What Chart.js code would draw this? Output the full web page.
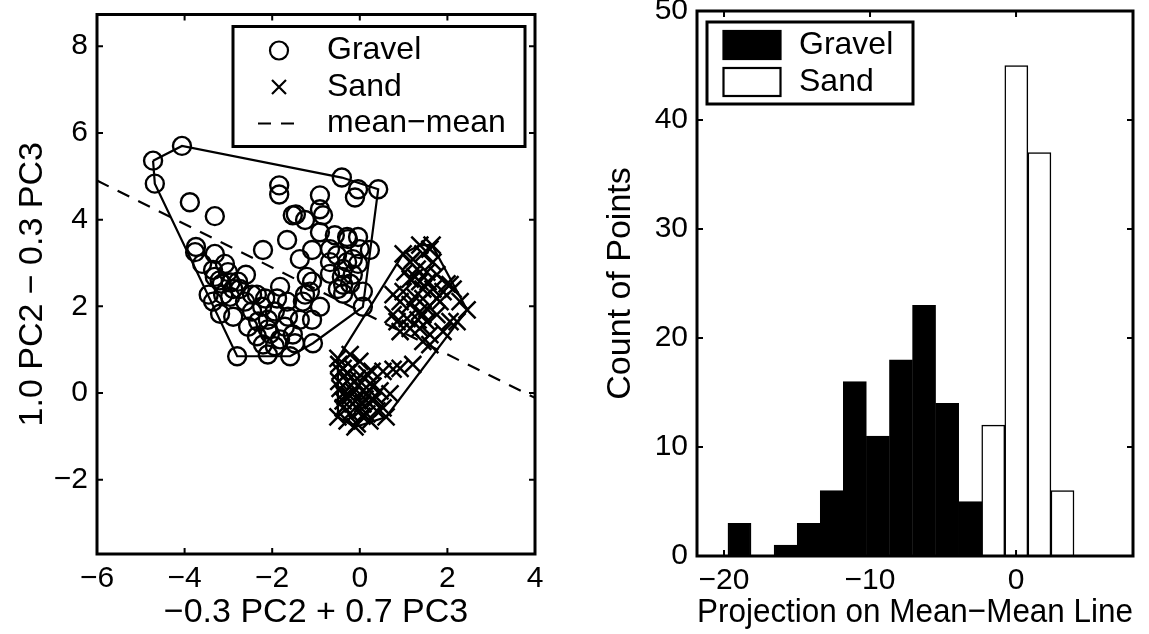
<!DOCTYPE html>
<html>
<head>
<meta charset="utf-8">
<title>Gravel vs Sand</title>
<script src="https://cdn.jsdelivr.net/npm/chart.js@4.4.1/dist/chart.umd.min.js"></script>
<style>
  html, body { margin: 0; padding: 0; background: #fff; }
  #scatter { position: absolute; left: 0; top: 0; }
  #hist { position: absolute; left: 575px; top: 0; }
</style>
</head>
<body>
<canvas id="scatter" width="575" height="634"></canvas>
<canvas id="hist" width="574" height="634"></canvas>
<script>
// ---- scatter: projected samples ----
const gravelX = [-4.72, -4.06, -4.68, -3.88, -3.31, -3.74, -3.31, -2.21, -1.84, -1.84,
  -0.91, -0.41, -0.04, -0.11, 0.42, -1.53, -0.91, -0.84, -1.25, -0.91,
  -1.66, -3.20, -1.37, -0.57, -0.27, 0.00, 0.23, -0.52, -0.38, -0.68,
  -0.16, -0.38, -0.50, 0.07, -1.09, -1.14, -0.91, 0.07, -3.76, -3.35,
  -3.01, -2.60, -2.89, -3.12, -3.45, -2.35, -1.89, -1.66, -1.30, -2.74,
  -2.46, -2.16, -1.25, -3.19, -2.89, -2.46, -2.32, -2.10, -1.64, -2.35,
  -2.05, -1.82, -1.53, -1.48, -2.80, -2.10, -1.59, -1.07, -2.21, -2.95,
  -1.09, -0.68, -0.29, -0.04, -0.29, -0.04, -0.68, -0.41, -0.16, -0.22,
  -1.21, -1.46, -3.31, -3.15, -2.78, -2.96, -2.62, -3.35, -2.23, -1.94,
  -2.55, -2.10, -1.71, -1.94, -1.37, -1.82, -3.60, -3.08, -0.38, -1.09];
const gravelY = [5.36, 5.70, 4.83, 4.40, 4.08, 3.37, 3.21, 3.30, 4.79, 4.58,
  4.56, 4.97, 4.70, 4.51, 4.70, 4.10, 4.24, 4.10, 3.99, 3.71,
  3.53, 2.60, 3.09, 3.64, 3.55, 3.32, 3.30, 3.18, 2.86, 3.02,
  3.09, 2.50, 2.40, 2.34, 2.57, 2.34, 1.99, 1.99, 3.25, 2.84,
  2.79, 2.73, 2.40, 2.27, 2.27, 2.27, 2.18, 2.11, 2.11, 2.40,
  2.27, 2.18, 2.27, 1.83, 1.76, 1.88, 1.65, 1.69, 1.76, 1.31,
  1.37, 1.24, 1.35, 1.15, 0.85, 0.89, 0.85, 1.15, 1.12, 2.55,
  3.30, 3.32, 3.60, 3.60, 3.02, 2.98, 2.75, 2.68, 2.73, 2.52,
  2.68, 4.12, 2.68, 2.52, 2.57, 2.22, 2.11, 2.11, 1.99, 1.88,
  1.53, 1.47, 1.53, 1.08, 1.69, 2.45, 2.98, 2.98, 2.29, 1.69];

const sandX = [0.99, 1.37, 1.44, 1.60, 1.15, 1.31, 1.53, 1.76, 1.99, 2.13,
  1.15, 1.37, 1.44, 1.67, 1.90, 0.76, 0.92, 1.15, 1.37, 1.53,
  1.76, 2.06, 2.22, 2.45, 1.53, 1.37, 1.15, 0.92, 1.60, 1.90,
  1.44, 1.60, 0.76, 1.08, 0.85, 0.99, 1.26, 1.44, 1.83, 1.21,
  1.67, 1.33, 1.44, 2.06, 2.29, 1.26, 1.56, 1.76, 1.03, 1.65,
  -0.50, -0.22, -0.38, -0.16, 0.00, -0.48, -0.29, -0.06, 0.16, -0.38,
  -0.16, 0.07, 0.23, 0.46, 0.53, 0.76, 0.92, 1.21, 0.30, 0.07,
  -0.16, -0.38, -0.50, -0.29, -0.06, 0.16, 0.39, 0.60, -0.11, 0.00,
  -0.22, 0.16, 0.30, 0.69, -0.45, -0.06, -0.29, -0.48, 0.23, 0.53,
  -0.04, 0.28, 0.05, -0.38, -0.34, -0.11, 0.12, 0.35, -0.45, -0.22];
const sandY = [3.21, 3.41, 3.21, 3.32, 3.02, 2.86, 2.79, 2.73, 2.52, 2.40,
  2.63, 2.57, 2.40, 2.40, 2.34, 2.27, 2.11, 2.04, 1.88, 1.95,
  1.81, 1.65, 1.65, 1.92, 1.65, 1.49, 1.49, 1.42, 1.35, 1.42,
  1.19, 1.12, 1.81, 1.72, 1.65, 2.34, 2.22, 2.18, 2.11, 3.09,
  3.02, 1.69, 1.81, 2.50, 2.11, 2.68, 2.57, 2.18, 2.79, 3.41,
  0.80, 0.89, 0.57, 0.57, 0.73, 0.27, 0.27, 0.34, 0.44, -0.02,
  0.05, 0.05, 0.21, 0.05, 0.50, 0.55, 0.57, 0.66, -0.18, -0.25,
  -0.25, -0.34, -0.55, -0.64, -0.71, -0.48, -0.41, -0.55, -0.78, -0.41,
  -0.46, -0.02, 0.16, -0.02, 0.11, -0.14, 0.46, 0.66, -0.64, -0.34,
  0.16, 0.50, -0.53, -0.18, -0.07, 0.27, -0.14, -0.07, 0.50, -0.07];

// convex hull vertices (closed)
const gravelHullX = [-4.72, -4.06, -0.41, 0.42, 0.07, -1.07, -1.59, -2.80, -4.68, -4.72];
const gravelHullY = [5.36, 5.70, 4.97, 4.70, 1.99, 1.15, 0.85, 0.85, 4.83, 5.36];
const sandHullX = [-0.50, 0.99, 1.37, 1.65, 2.45, 0.60, -0.11, -0.50, -0.50];
const sandHullY = [0.80, 3.21, 3.41, 3.41, 1.92, -0.55, -0.78, -0.55, 0.80];

// line through the two class means
const meanLineX = [-6, 4];
const meanLineY = [4.90, -0.11];

const scatterXTicks = [-6, -4, -2, 0, 2, 4];
const scatterYTicks = [-2, 0, 2, 4, 6, 8];

// ---- histogram of projections ----
const gravelBins = [-18.94, -17.36, -15.78, -14.20, -12.62, -11.04, -9.46, -7.88, -6.30, -4.72, -3.14];
const gravelCounts = [3, 0, 1, 3, 6, 16, 11, 18, 23, 14, 5];
const sandBins = [-1.56, 0.02, 1.60, 3.18];
const sandCounts = [12, 45, 37, 6];

const histXTicks = [-20, -10, 0];
const histYTicks = [0, 10, 20, 30, 40, 50];

const FONT = '"Liberation Sans", Arial, Helvetica, sans-serif';
Chart.defaults.font.family = FONT;
Chart.defaults.color = '#000';
Chart.defaults.animation = false;

const minus = v => String(v).replace('-', '\u2212');
const pts = (xs, ys) => xs.map((x, i) => ({ x: x, y: ys[i] }));

// inward tick marks on all four sides plus the box frame
const frameTicks = {
  id: 'frameTicks',
  afterDatasetsDraw(chart) {
    const { ctx, chartArea: a, scales: { x, y } } = chart;
    const len = 6;
    ctx.save();
    ctx.strokeStyle = '#000';
    ctx.lineWidth = 2;
    ctx.beginPath();
    x.ticks.forEach(t => {
      const p = x.getPixelForValue(t.value);
      ctx.moveTo(p, a.bottom); ctx.lineTo(p, a.bottom - len);
      ctx.moveTo(p, a.top); ctx.lineTo(p, a.top + len);
    });
    y.ticks.forEach(t => {
      const p = y.getPixelForValue(t.value);
      ctx.moveTo(a.left, p); ctx.lineTo(a.left + len, p);
      ctx.moveTo(a.right, p); ctx.lineTo(a.right - len, p);
    });
    ctx.stroke();
    ctx.lineWidth = 3;
    ctx.strokeRect(a.left, a.top, a.right - a.left, a.bottom - a.top);
    ctx.restore();
  }
};

// boxed legend drawn inside the plot area
const boxLegend = {
  id: 'boxLegend',
  afterDraw(chart, args, o) {
    const { ctx, chartArea: a } = chart;
    const x0 = a.left + o.left, y0 = a.top + o.top;
    ctx.save();
    ctx.fillStyle = '#fff';
    ctx.fillRect(x0, y0, o.width, o.height);
    ctx.strokeStyle = '#000';
    ctx.lineWidth = 3;
    ctx.strokeRect(x0, y0, o.width, o.height);
    ctx.font = o.fontSize + 'px ' + FONT;
    ctx.textBaseline = 'middle';
    chart.data.datasets.filter(d => d.label).forEach((d, i) => {
      const cy = y0 + o.firstRow + i * o.rowGap;
      const mx = x0 + o.keyX;
      ctx.strokeStyle = '#000';
      ctx.lineWidth = 2.2;
      ctx.setLineDash([]);
      ctx.beginPath();
      if (chart.config.type === 'bar') {
        ctx.fillStyle = d.backgroundColor;
        ctx.fillRect(mx - o.keyW / 2, cy - o.keyH / 2, o.keyW, o.keyH);
        ctx.strokeRect(mx - o.keyW / 2, cy - o.keyH / 2, o.keyW, o.keyH);
      } else if (d.showLine) {
        ctx.setLineDash(d.borderDash || []);
        ctx.moveTo(mx - o.keyW / 2, cy);
        ctx.lineTo(mx + o.keyW / 2, cy);
        ctx.stroke();
      } else if (d.pointStyle === 'crossRot') {
        const h = 7;
        ctx.moveTo(mx - h, cy - h); ctx.lineTo(mx + h, cy + h);
        ctx.moveTo(mx - h, cy + h); ctx.lineTo(mx + h, cy - h);
        ctx.stroke();
      } else {
        ctx.arc(mx, cy, d.pointRadius, 0, Math.PI * 2);
        ctx.stroke();
      }
      ctx.setLineDash([]);
      ctx.fillStyle = '#000';
      ctx.fillText(d.label, x0 + o.textX, cy);
    });
    ctx.restore();
  }
};

// linear axis with fixed thickness, fixed tick list and no label overflow padding
function axis(min, max, ticks, title, fixed, pad, titlePad, extra) {
  return Object.assign({
    type: 'linear',
    min: min,
    max: max,
    afterBuildTicks: s => { s.ticks = ticks.map(v => ({ value: v })); },
    afterFit: s => {
      if (s.isHorizontal()) s.height = fixed; else s.width = fixed;
      s.paddingTop = s.paddingBottom = s.paddingLeft = s.paddingRight = 0;
    },
    grid: { display: false, drawTicks: false },
    border: { display: false },
    ticks: { font: { size: 30 }, callback: minus, autoSkip: false, maxRotation: 0, padding: pad },
    title: { display: true, text: title, font: { size: 34 }, padding: titlePad }
  }, extra || {});
}

// left panel: scatter with hulls and the mean-mean line
new Chart(document.getElementById('scatter'), {
  type: 'scatter',
  data: {
    datasets: [
      { label: 'Gravel', data: pts(gravelX, gravelY), pointStyle: 'circle', pointRadius: 9,
        pointHoverRadius: 9, borderColor: '#000', backgroundColor: 'rgba(0,0,0,0)', borderWidth: 2.4 },
      { label: 'Sand', data: pts(sandX, sandY), pointStyle: 'crossRot', pointRadius: 12,
        pointHoverRadius: 12, borderColor: '#000', backgroundColor: '#000', borderWidth: 2.5 },
      { label: 'mean\u2212mean', data: pts(meanLineX, meanLineY), showLine: true, pointRadius: 0,
        borderColor: '#000', borderWidth: 2.2, borderDash: [13, 10] },
      { data: pts(gravelHullX, gravelHullY), showLine: true, pointRadius: 0, borderColor: '#000', borderWidth: 2.2 },
      { data: pts(sandHullX, sandHullY), showLine: true, pointRadius: 0, borderColor: '#000', borderWidth: 2.2 }
    ]
  },
  options: {
    responsive: false,
    events: [],
    layout: { padding: { top: 11, right: 40, bottom: 0, left: 0 } },
    scales: {
      x: axis(-6, 4, scatterXTicks, '\u22120.3 PC2 + 0.7 PC3', 80, 7, { top: 0, bottom: 1 }),
      y: axis(-3.71, 8.73, scatterYTicks, '1.0 PC2 \u2212 0.3 PC3', 97, 9, { top: 12, bottom: 0 })
    },
    plugins: {
      legend: { display: false },
      tooltip: { enabled: false },
      boxLegend: { left: 136, top: 12, width: 292, height: 120, fontSize: 32,
        keyX: 46, keyW: 42, keyH: 28, textX: 94, firstRow: 24, rowGap: 36.5 }
    }
  },
  plugins: [frameTicks, boxLegend]
});

// right panel: histogram of projections onto the mean-mean line
new Chart(document.getElementById('hist'), {
  type: 'bar',
  data: {
    datasets: [
      { label: 'Gravel', data: pts(gravelBins, gravelCounts), backgroundColor: '#000', borderColor: '#000',
        borderWidth: 1.5, grouped: false, barPercentage: 1, categoryPercentage: 1 },
      { label: 'Sand', data: pts(sandBins, sandCounts), backgroundColor: '#fff', borderColor: '#000',
        borderWidth: 1.5, grouped: false, barPercentage: 1, categoryPercentage: 1 }
    ]
  },
  options: {
    responsive: false,
    events: [],
    layout: { padding: { top: 11, right: 16, bottom: 0, left: 0 } },
    scales: {
      x: axis(-21.85, 8.01, histXTicks, 'Projection on Mean\u2212Mean Line', 78, 7, { top: 0, bottom: 1 },
        { offset: false }),
      y: axis(0, 50, histYTicks, 'Count of Points', 122, 9, { top: 25, bottom: 0 })
    },
    plugins: {
      legend: { display: false },
      tooltip: { enabled: false },
      boxLegend: { left: 10, top: 11, width: 206, height: 82, fontSize: 32,
        keyX: 45, keyW: 57, keyH: 28, textX: 92, firstRow: 23, rowGap: 37 }
    }
  },
  plugins: [frameTicks, boxLegend]
});
</script>
</body>
</html>
